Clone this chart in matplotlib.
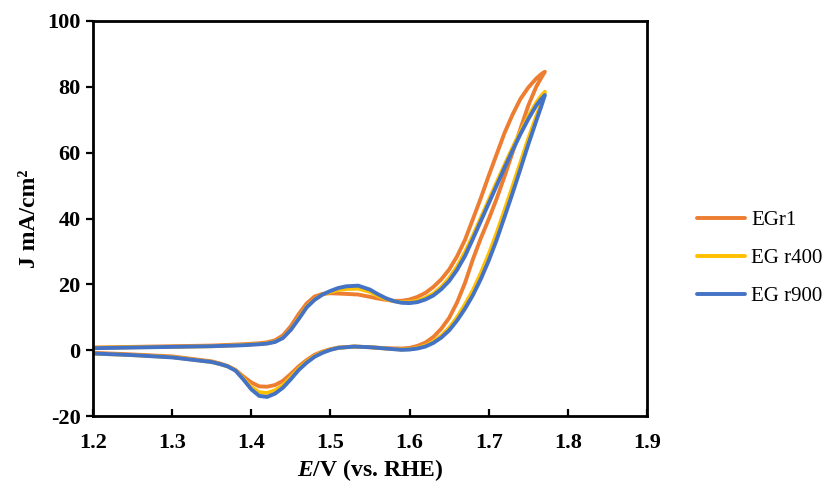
import matplotlib
matplotlib.use("Agg")
import matplotlib.pyplot as plt

plt.rcParams["font.family"] = "Liberation Serif"
plt.rcParams["mathtext.fontset"] = "custom"
plt.rcParams["mathtext.it"] = "Liberation Serif:italic:bold"
plt.rcParams["mathtext.rm"] = "Liberation Serif:bold"
plt.rcParams["axes.unicode_minus"] = False

# potential points (V vs. RHE), anodic sweep then return sweep
e_fwd = [1.20, 1.25, 1.30, 1.35, 1.39, 1.41, 1.42, 1.43, 1.44, 1.45, 1.46, 1.47, 1.48, 1.49,
         1.50, 1.51, 1.52, 1.535, 1.55, 1.56, 1.57, 1.58, 1.59, 1.60, 1.61, 1.62, 1.63, 1.64,
         1.65, 1.66, 1.67, 1.68, 1.69, 1.70, 1.71, 1.72, 1.73, 1.74, 1.75, 1.76, 1.766, 1.771]
e_rev = [1.771, 1.766, 1.76, 1.75, 1.74, 1.73, 1.72, 1.71, 1.70, 1.69, 1.68, 1.67, 1.66, 1.65,
         1.64, 1.63, 1.62, 1.61, 1.60, 1.59, 1.57, 1.55, 1.53, 1.51, 1.50, 1.49, 1.48, 1.47,
         1.46, 1.45, 1.44, 1.43, 1.42, 1.41, 1.40, 1.39, 1.38, 1.37, 1.36, 1.35, 1.30, 1.25, 1.20]

# current density (mA/cm2)
egr1_fwd = [0.8, 1.0, 1.2, 1.4, 1.8, 2.1, 2.4, 3.0, 4.5, 7.3, 11.0, 14.2, 16.3, 17.1,
            17.3, 17.2, 17.1, 16.9, 16.2, 15.7, 15.3, 15.0, 15.0, 15.4, 16.2, 17.4, 19.2, 21.5,
            24.5, 28.5, 33.5, 39.8, 46.2, 53.0, 59.5, 66.0, 71.5, 76.3, 79.8, 82.5, 83.8, 84.6]
egr1_rev = [84.6, 82.6, 80.0, 74.3, 67.2, 60.0, 52.8, 46.0, 39.8, 34.0, 27.6, 20.4, 14.5, 9.8,
            6.5, 4.0, 2.3, 1.3, 0.7, 0.5, 0.6, 0.9, 1.1, 0.8, 0.3, -0.4, -1.4, -3.0,
            -4.9, -7.2, -9.3, -10.6, -11.1, -11.0, -9.8, -8.0, -6.0, -4.8, -4.0, -3.4, -1.9, -1.3, -0.8]

r400_fwd = [0.7, 0.9, 1.0, 1.2, 1.6, 1.9, 2.1, 2.6, 3.8, 6.3, 9.8, 13.2, 15.4, 16.9,
            17.7, 18.3, 18.6, 18.7, 17.7, 16.5, 15.5, 14.9, 14.6, 14.6, 15.0, 15.9, 17.2, 19.2,
            21.9, 25.4, 29.8, 34.8, 40.2, 45.6, 51.0, 56.3, 61.5, 66.4, 71.0, 75.2, 77.2, 78.5]
r400_rev = [78.5, 74.8, 71.0, 64.3, 57.0, 49.7, 42.6, 35.6, 29.2, 23.4, 18.2, 13.9, 10.0, 6.8,
            4.4, 2.6, 1.4, 0.7, 0.3, 0.2, 0.5, 0.9, 1.1, 0.7, 0.2, -0.6, -1.8, -3.5,
            -5.6, -8.2, -10.6, -12.2, -13.0, -12.8, -11.2, -8.6, -6.1, -4.9, -4.2, -3.6, -2.1, -1.5, -1.0]

r900_fwd = [0.6, 0.8, 1.0, 1.2, 1.5, 1.8, 2.0, 2.5, 3.7, 6.2, 9.5, 13.0, 15.3, 16.9,
            18.0, 18.9, 19.4, 19.6, 18.4, 17.0, 15.8, 14.9, 14.4, 14.3, 14.6, 15.4, 16.6, 18.5,
            21.0, 24.4, 28.6, 33.8, 39.2, 44.6, 50.0, 55.4, 60.6, 65.6, 70.2, 74.3, 76.2, 77.5]
r900_rev = [77.5, 73.8, 69.6, 62.5, 55.0, 47.6, 40.5, 33.5, 27.2, 21.6, 16.7, 12.6, 9.0, 6.0,
            3.8, 2.2, 1.1, 0.5, 0.2, 0.1, 0.5, 0.9, 1.1, 0.7, 0.1, -0.8, -2.0, -3.8,
            -6.0, -8.8, -11.4, -13.2, -14.2, -13.9, -11.9, -8.9, -6.2, -4.9, -4.2, -3.6, -2.2, -1.5, -1.0]

names = ["EGr1", "EG r400", "EG r900"]
colors = ["#ED7D31", "#FFC000", "#4472C4"]
currents = [egr1_fwd + egr1_rev, r400_fwd + r400_rev, r900_fwd + r900_rev]

x_ticks = [1.2, 1.3, 1.4, 1.5, 1.6, 1.7, 1.8, 1.9]
y_ticks = [-20, 0, 20, 40, 60, 80, 100]

fig = plt.figure(figsize=(8.26, 4.86), dpi=100)
ax = fig.add_axes([0.1126, 0.144, 0.6707, 0.8128])

e_all = e_fwd + e_rev
for name, color, j in zip(names, colors, currents):
    ax.plot(e_all, j, color=color, lw=2.8, label=name, solid_joinstyle="round",
            solid_capstyle="round")

ax.set_xlim(1.2, 1.9)
ax.set_ylim(-20, 100)
ax.set_xticks(x_ticks)
ax.set_xticklabels([f"{t:.1f}" for t in x_ticks])
ax.set_yticks(y_ticks)
ax.set_yticklabels([str(t) for t in y_ticks])

for s in ax.spines.values():
    s.set_linewidth(2.0)
ax.tick_params(axis="x", direction="in", length=5, width=1.6, pad=12, labelsize=16)
ax.tick_params(axis="y", direction="out", length=5, width=1.6, pad=4, labelsize=16)
for lab in ax.get_xticklabels() + ax.get_yticklabels():
    lab.set_fontweight("bold")

ax.set_xlabel(r"$E$/V (vs. RHE)", fontsize=17, fontweight="bold", labelpad=3)
ax.set_ylabel("J mA/cm²", fontsize=17, fontweight="bold", labelpad=5)

fig.legend(loc="center left", bbox_to_anchor=(0.821, 0.468), frameon=False,
           fontsize=15, handlelength=2.3, labelspacing=0.88, handletextpad=0.3)

fig.savefig("out.png", dpi=100)
